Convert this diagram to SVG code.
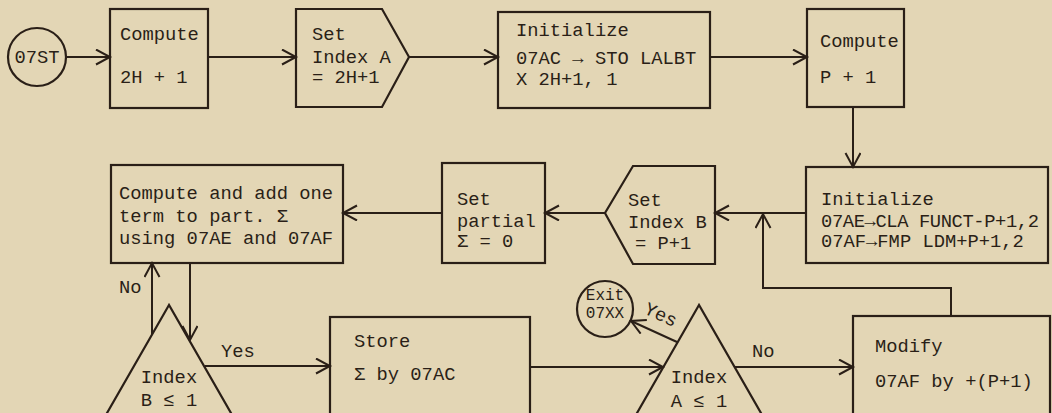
<svg xmlns="http://www.w3.org/2000/svg" width="1052" height="413" viewBox="0 0 1052 413">
<defs>
<style>
.bg{fill:#e3d6b5}
.s{fill:none;stroke:#2a1f17;stroke-width:2.2}
.c{fill:none;stroke:#2a1f17;stroke-width:2}
text{font-family:"Liberation Mono","DejaVu Sans Mono",monospace;font-size:18.8px;fill:#2a1f17}
.m{text-anchor:middle}
.sm{font-size:16px}
</style>
<marker id="ah" markerUnits="userSpaceOnUse" markerWidth="18" markerHeight="18" refX="15" refY="8" orient="auto">
<path d="M1,0.5 L15,8 L1,15.5" fill="none" stroke="#2a1f17" stroke-width="2"/>
</marker>
</defs>
<rect class="bg" x="0" y="0" width="1052" height="413"/>
<g id="connectors">
<line class="c" x1="66" y1="57" x2="110" y2="57" marker-end="url(#ah)"/>
<line class="c" x1="208" y1="57" x2="296" y2="57" marker-end="url(#ah)"/>
<line class="c" x1="409" y1="57" x2="498" y2="57" marker-end="url(#ah)"/>
<line class="c" x1="710" y1="57" x2="807" y2="57" marker-end="url(#ah)"/>
<line class="c" x1="853" y1="107" x2="853" y2="167" marker-end="url(#ah)"/>
<line class="c" x1="806" y1="213" x2="715" y2="213" marker-end="url(#ah)"/>
<polyline class="c" points="951,316 951,288 763,288 763,214" marker-end="url(#ah)"/>
<line class="c" x1="605" y1="213" x2="545" y2="213" marker-end="url(#ah)"/>
<line class="c" x1="442" y1="213" x2="343" y2="213" marker-end="url(#ah)"/>
<line class="c" x1="152" y1="334" x2="152" y2="263" marker-end="url(#ah)"/>
<line class="c" x1="190" y1="263" x2="190" y2="340" marker-end="url(#ah)"/>
<line class="c" x1="205" y1="366" x2="330" y2="366" marker-end="url(#ah)"/>
<line class="c" x1="530" y1="367" x2="663" y2="367" marker-end="url(#ah)"/>
<line class="c" x1="677" y1="342" x2="631" y2="321" marker-end="url(#ah)"/>
<line class="c" x1="735" y1="367" x2="853" y2="367" marker-end="url(#ah)"/>
<text x="119" y="293">No</text>
<text x="221" y="357">Yes</text>
<text x="752" y="357">No</text>
<text x="643" y="313" transform="rotate(25 643 313)">Yes</text>
</g>
<g id="start">
<circle class="s" cx="37" cy="57" r="29"/>
<text class="m" x="37" y="63">07ST</text>
</g>
<g id="compute2h">
<rect class="s" x="110" y="9" width="98" height="99"/>
<text x="120" y="40">Compute</text>
<text x="120" y="83">2H + 1</text>
</g>
<g id="setIndexA">
<polygon class="s" points="296,9 382,9 409,57 382,107 296,107"/>
<text x="312" y="40">Set</text>
<text x="312" y="63">Index A</text>
<text x="312" y="83">= 2H+1</text>
</g>
<g id="init1">
<rect class="s" x="498" y="12" width="212" height="96"/>
<text x="516" y="36">Initialize</text>
<text x="516" y="64">07AC → STO LALBT</text>
<text x="516" y="85">X 2H+1, 1</text>
</g>
<g id="computeP">
<rect class="s" x="807" y="9" width="97" height="98"/>
<text x="820" y="47">Compute</text>
<text x="820" y="83">P + 1</text>
</g>
<g id="init2">
<rect class="s" x="806" y="167" width="242" height="96"/>
<text x="821" y="205">Initialize</text>
<text x="821" y="227" textLength="218">07AE→CLA FUNCT-P+1,2</text>
<text x="821" y="247">07AF→FMP LDM+P+1,2</text>
</g>
<g id="setIndexB">
<polygon class="s" points="715,166 633,166 605,213 633,264 715,264"/>
<text x="628" y="206">Set</text>
<text x="628" y="228">Index B</text>
<text x="635" y="249">= P+1</text>
</g>
<g id="setPartial">
<rect class="s" x="442" y="163" width="103" height="100"/>
<text x="457" y="205">Set</text>
<text x="457" y="227">partial</text>
<text x="457" y="247">Σ = 0</text>
</g>
<g id="computeTerm">
<rect class="s" x="111" y="165" width="232" height="98"/>
<text x="119" y="199">Compute and add one</text>
<text x="119" y="222">term to part. Σ</text>
<text x="119" y="244">using 07AE and 07AF</text>
</g>
<g id="testB">
<polygon class="s" points="169,305 103,420 235,420"/>
<text class="m" x="169" y="383">Index</text>
<text class="m" x="169" y="406">B ≤ 1</text>
</g>
<g id="store">
<rect class="s" x="330" y="317" width="200" height="110"/>
<text x="354" y="347">Store</text>
<text x="354" y="380">Σ by 07AC</text>
</g>
<g id="testA">
<polygon class="s" points="699,305 633,420 765,420"/>
<text class="m" x="699" y="383">Index</text>
<text class="m" x="699" y="407">A ≤ 1</text>
</g>
<g id="exit">
<circle class="s" cx="605" cy="309" r="28"/>
<text class="m sm" x="605" y="300">Exit</text>
<text class="m sm" x="605" y="318">07XX</text>
</g>
<g id="modify">
<rect class="s" x="853" y="316" width="197" height="110"/>
<text x="875" y="352">Modify</text>
<text x="875" y="387">07AF by +(P+1)</text>
</g>
</svg>
